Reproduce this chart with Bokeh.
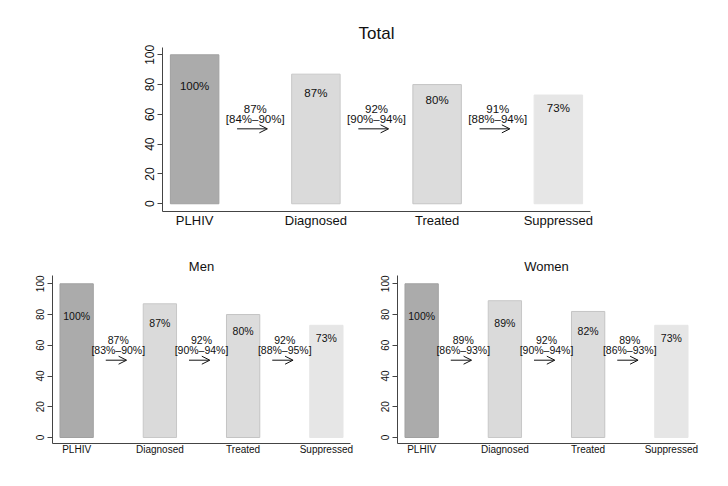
from bokeh.plotting import figure
from bokeh.layouts import column, row
from bokeh.models import Range1d, FixedTicker, Arrow, OpenHead, ColumnDataSource
from bokeh.core.properties import value
from bokeh.embed import file_html
from bokeh.resources import INLINE

stages = ["PLHIV", "Diagnosed", "Treated", "Suppressed"]
bar_colors = ["#ababab", "#dadada", "#dcdcdc", "#e6e6e6"]
bar_lines = ["#a0a0a0", "#c8c8c8", "#c4c4c4", "#e6e6e6"]

total_vals = [100, 87, 80, 73]
men_vals = [100, 87, 80, 73]
women_vals = [100, 89, 82, 73]

total_conv = ["87%", "92%", "91%"]
total_ci = ["[84%\u201390%]", "[90%\u201394%]", "[88%\u201394%]"]
men_conv = ["87%", "92%", "92%"]
men_ci = ["[83%\u201390%]", "[90%\u201394%]", "[88%\u201395%]"]
women_conv = ["89%", "92%", "89%"]
women_ci = ["[86%\u201393%]", "[90%\u201394%]", "[86%\u201393%]"]

FONT = "Liberation Sans"


def panel(title, vals, conv, ci, fw, fh, bl, br, bt, bb, ymin, ymax,
          xpad, title_size, axis_size, tick_size, bar_size, conv_size, standoff_title, x_standoff):
    p = figure(frame_width=fw, frame_height=fh, min_border_left=bl, min_border_right=br,
               min_border_top=bt, min_border_bottom=bb, output_backend="svg",
               toolbar_location=None, title=title,
               x_range=Range1d(-xpad, 3 + xpad), y_range=Range1d(ymin, ymax))
    p.title.align = "center"
    p.title.text_font = FONT
    p.title.text_font_style = "normal"
    p.title.text_font_size = title_size
    p.title.text_color = "#111111"
    p.title.standoff = standoff_title
    p.outline_line_color = None
    p.grid.visible = False
    p.background_fill_color = "white"
    p.border_fill_color = "white"

    xs = list(range(len(stages)))
    src = ColumnDataSource(dict(x=xs, top=vals, fill=bar_colors, line=bar_lines,
                                lab=[f"{v}%" for v in vals],
                                ly=[79.2 - 4.9 * i for i in xs]))
    p.vbar(x="x", top="top", bottom=0, width=0.4, fill_color="fill", line_color="line",
           line_width=1, source=src)
    p.text(x="x", y="ly", text="lab", source=src, text_align="center",
           text_baseline="middle", text_font=value(FONT), text_font_size=bar_size,
           text_color="#111111")

    mids = [i + 0.5 for i in range(len(conv))]
    csrc = ColumnDataSource(dict(x=mids, conv=conv, ci=ci,
                                 y1=[63.5] * len(conv), y2=[57.0] * len(conv),
                                 xs=[i + 0.35 for i in range(len(conv))],
                                 xe=[i + 0.60 for i in range(len(conv))],
                                 ya=[50.3] * len(conv)))
    p.text(x="x", y="y1", text="conv", source=csrc, text_align="center",
           text_baseline="middle", text_font=value(FONT), text_font_size=conv_size,
           text_color="#111111")
    p.text(x="x", y="y2", text="ci", source=csrc, text_align="center",
           text_baseline="middle", text_font=value(FONT), text_font_size=conv_size,
           text_color="#111111")
    p.add_layout(Arrow(end=OpenHead(size=8, line_width=1, line_color="#111111"),
                       x_start="xs", y_start="ya", x_end="xe", y_end="ya",
                       line_width=1, line_color="#111111", source=csrc))

    xa = p.xaxis[0]
    xa.ticker = FixedTicker(ticks=xs)
    xa.major_label_overrides = {i: s for i, s in enumerate(stages)}
    xa.major_tick_line_color = None
    xa.major_tick_out = 0
    xa.major_tick_in = 0
    xa.minor_tick_line_color = None
    xa.minor_tick_out = 0
    xa.major_label_standoff = x_standoff
    xa.major_label_text_font = FONT
    xa.major_label_text_font_size = axis_size
    xa.major_label_text_color = "#111111"
    xa.axis_line_color = "#444444"

    ya = p.yaxis[0]
    ya.ticker = FixedTicker(ticks=[0, 20, 40, 60, 80, 100])
    ya.major_label_orientation = "vertical"
    ya.major_tick_in = 0
    ya.major_tick_out = 5
    ya.minor_tick_line_color = None
    ya.major_label_standoff = 3
    ya.major_label_text_font = FONT
    ya.major_label_text_font_size = tick_size
    ya.major_label_text_color = "#111111"
    ya.axis_line_color = "#444444"
    ya.major_tick_line_color = "#444444"
    return p


top = panel("Total", total_vals, total_conv, total_ci, 428, 164, 162, 130, 47, 42,
            -5.2, 104.9, 0.265, "17px", "13px", "12px", "11.5px", "11.5px", 9, 1)
men = panel("Men", men_vals, men_conv, men_ci, 298, 168, 52, 6, 22, 30,
            -3.9, 105.4, 0.29, "13px", "10px", "10px", "10.5px", "10.5px", 3, 0)
women = panel("Women", women_vals, women_conv, women_ci, 298, 168, 41, 25, 22, 30,
              -3.9, 105.4, 0.29, "13px", "10px", "10px", "10.5px", "10.5px", 3, 0)

layout = column(top, row(men, women))
open("out.html", "w").write(file_html(layout, INLINE))
